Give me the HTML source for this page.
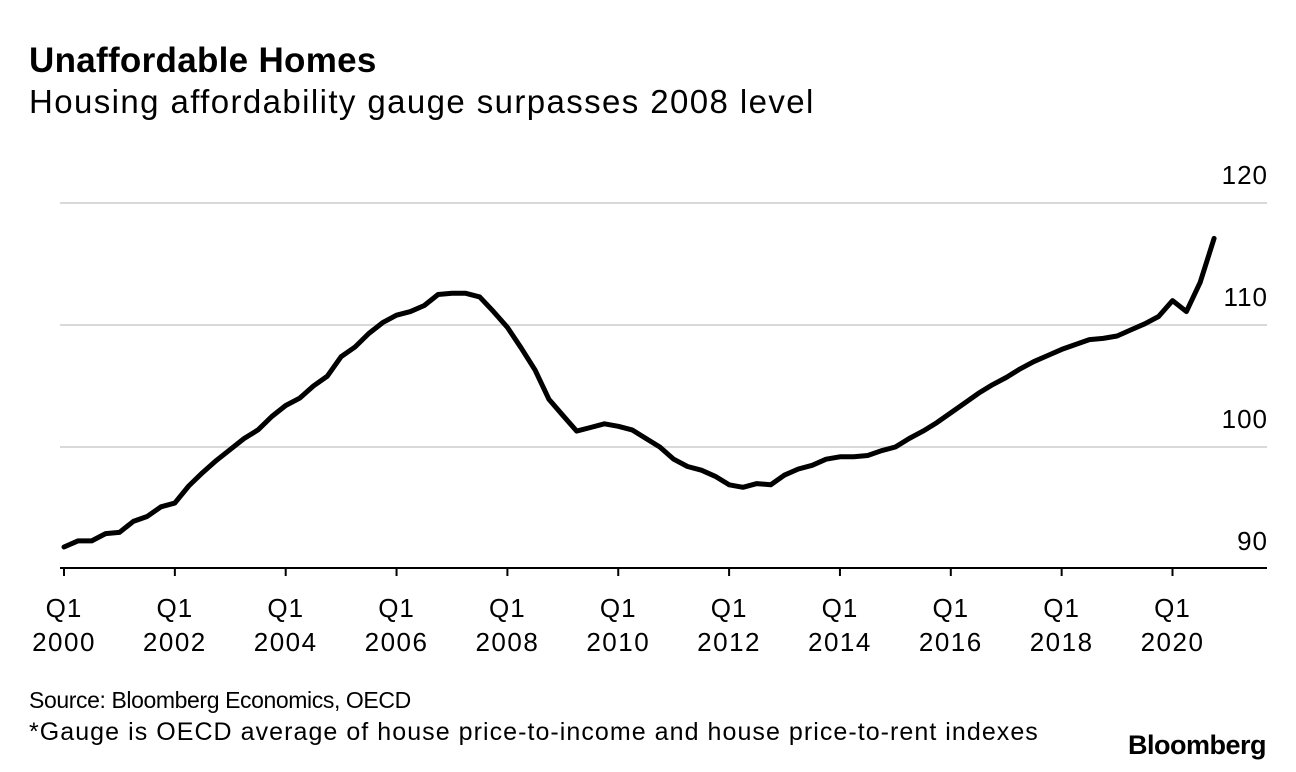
<!DOCTYPE html>
<html><head><meta charset="utf-8">
<style>
body{margin:0;background:#fff;font-family:"Liberation Sans",sans-serif;}
#wrap{position:relative;width:1296px;height:772px;overflow:hidden;background:#fff;}
.t{position:absolute;white-space:nowrap;color:#000;}
</style></head>
<body>
<div id="wrap">
<div class="t" style="left:29px;top:41px;font-size:35px;font-weight:bold;letter-spacing:0.3px">Unaffordable Homes</div>
<div class="t" style="left:29px;top:83px;font-size:33px;letter-spacing:1.4px">Housing affordability gauge surpasses 2008 level</div>
<svg id="chart" width="1296" height="772" style="position:absolute;left:0;top:0"></svg>
<div class="t" style="left:29px;top:687px;font-size:23px;letter-spacing:-0.4px">Source: Bloomberg Economics, OECD</div>
<div class="t" style="left:29px;top:718px;font-size:25px;letter-spacing:1.05px">*Gauge is OECD average of house price-to-income and house price-to-rent indexes</div>
<div class="t" style="left:1128px;top:730px;font-size:27px;font-weight:bold;letter-spacing:-0.5px">Bloomberg</div>
</div>
<script>
const values=[91.8,92.3,92.3,92.9,93.0,93.9,94.3,95.1,95.4,96.8,97.9,98.9,99.8,100.7,101.4,102.5,103.4,104.0,105.0,105.8,107.4,108.2,109.3,110.2,110.8,111.1,111.6,112.5,112.6,112.6,112.3,111.1,109.8,108.1,106.3,103.9,102.6,101.3,101.6,101.9,101.7,101.4,100.7,100.0,99.0,98.4,98.1,97.6,96.9,96.7,97.0,96.9,97.7,98.2,98.5,99.0,99.2,99.2,99.3,99.7,100.0,100.7,101.3,102.0,102.8,103.6,104.4,105.1,105.7,106.4,107.0,107.5,108.0,108.4,108.8,108.9,109.1,109.6,110.1,110.7,112.0,111.1,113.5,117.1];
const yTicks=[90,100,110,120];
const xTickYears=[2000,2002,2004,2006,2008,2010,2012,2014,2016,2018,2020];
const NS="http://www.w3.org/2000/svg";
const svg=document.getElementById('chart');
const x=q=>64+q*(1108.5/80);
const xYear=yr=>x((yr-2000)*4);
const y=v=>569-(v-90)*12.2;
function mk(tag,attrs){const e=document.createElementNS(NS,tag);for(const k in attrs)e.setAttribute(k,attrs[k]);svg.appendChild(e);return e;}
yTicks.forEach(v=>{
  if(v>90){const g=mk('line',{x1:60,x2:1267,y1:y(v),y2:y(v),stroke:'#d9d9d9','stroke-width':2});
  
  }
  const t=mk('text',{x:1268,y:(v>90?y(v)-19:y(v)-19),'text-anchor':'end','font-size':26,'letter-spacing':1,'font-family':'Liberation Sans, sans-serif'});
  t.textContent=v;
  
  
});
const ax=mk('line',{x1:60,x2:1267,y1:568,y2:568,stroke:'#000','stroke-width':2});


xTickYears.forEach(yr=>{
  const xx=xYear(yr);
  const tk=mk('line',{x1:xx,x2:xx,y1:568,y2:576,stroke:'#000','stroke-width':2});
  
  
  const t1=mk('text',{x:xx,y:617,'text-anchor':'middle','font-size':26,'letter-spacing':1,'font-family':'Liberation Sans, sans-serif'});
  t1.textContent='Q1';
  
  
  const t2=mk('text',{x:xx,y:651,'text-anchor':'middle','font-size':26,'letter-spacing':1.5,'font-family':'Liberation Sans, sans-serif'});
  t2.textContent=yr;
  
  
});
const pts=values.map((v,i)=>x(i).toFixed(1)+','+y(v).toFixed(1)).join(' ');
const line=mk('polyline',{points:pts,fill:'none',stroke:'#000','stroke-width':5,'stroke-linejoin':'round','stroke-linecap':'round'});


</script>
</body></html>
